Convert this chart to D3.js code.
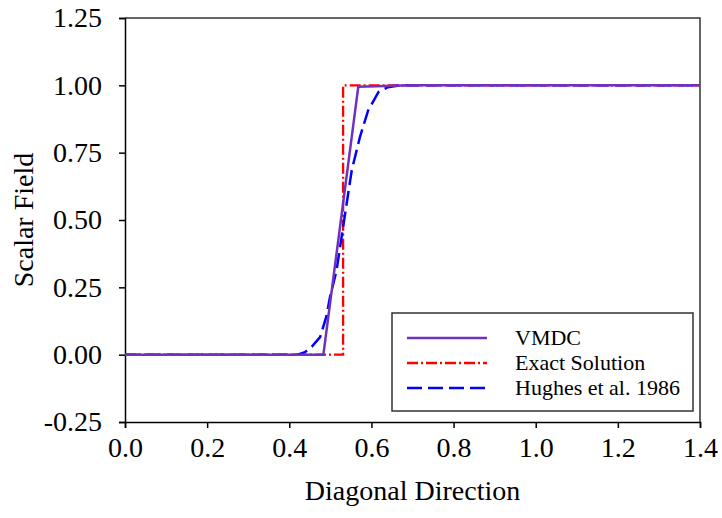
<!DOCTYPE html>
<html>
<head>
<meta charset="utf-8">
<script src="https://cdn.jsdelivr.net/npm/d3@7"></script>
<style>
  body { margin: 0; background: #fff; }
  svg { display: block; }
  .axis path, .axis line { stroke: #000; stroke-width: 1.5; }
</style>
</head>
<body>
<div id="chart"></div>
<script>
// Data
var xTicks = [0.0, 0.2, 0.4, 0.6, 0.8, 1.0, 1.2, 1.4];
var yTicks = [-0.25, 0.00, 0.25, 0.50, 0.75, 1.00, 1.25];

var vmdcX = [0, 0.483, 0.568, 0.70, 1.4];
var vmdcY = [0, 0, 0.995, 1.0, 1.0];

var exactX = [0, 0.531, 0.531, 1.4];
var exactY = [0, 0, 1, 1];

var hughesX = [0, 0.42, 0.438, 0.455, 0.475, 0.49, 0.499, 0.515, 0.536, 0.552, 0.572, 0.592, 0.617, 0.64, 0.67, 1.4];
var hughesY = [0, 0, 0.009, 0.03, 0.065, 0.14, 0.213, 0.312, 0.524, 0.684, 0.808, 0.907, 0.975, 0.993, 1.0, 1.0];

var seriesNames = ["VMDC", "Exact Solution", "Hughes et al. 1986"];

// Parameters
var width = 722, height = 518;
var plotL = 125, plotR = 700, plotT = 18, plotB = 422;
var serif = "'Liberation Serif', 'Times New Roman', serif";

var svg = d3.select("#chart").append("svg")
    .attr("width", width)
    .attr("height", height)
    .attr("font-family", serif);

var xScale = d3.scaleLinear().domain([0, 1.4]).range([plotL, plotR]);
var yScale = d3.scaleLinear().domain([-0.25, 1.25]).range([plotB, plotT]);

// frame (top and right)
svg.append("path")
    .attr("d", "M" + plotL + "," + plotT + "H" + plotR + "V" + plotB)
    .attr("fill", "none").attr("stroke", "#333").attr("stroke-width", 1.5);

function hyphen(fmt) {
    var f = d3.format(fmt);
    return function(d) { return f(d).replace("\u2212", "-"); };
}

var xAxis = d3.axisBottom(xScale).tickValues(xTicks).tickSize(6).tickSizeOuter(6)
    .tickPadding(9).tickFormat(hyphen(".1f"));
var yAxis = d3.axisLeft(yScale).tickValues(yTicks).tickSize(6).tickSizeOuter(6)
    .tickPadding(17).tickFormat(hyphen(".2f"));

svg.append("g").attr("class", "axis")
    .attr("transform", "translate(0," + plotB + ")")
    .call(xAxis)
    .attr("font-family", serif).attr("font-size", 28);
svg.append("g").attr("class", "axis")
    .attr("transform", "translate(" + plotL + ",0)")
    .call(yAxis)
    .attr("font-family", serif).attr("font-size", 28);

// Axis titles
svg.append("text")
    .attr("x", (plotL + plotR) / 2).attr("y", 500)
    .attr("text-anchor", "middle").attr("font-size", 28)
    .text("Diagonal Direction");
svg.append("text")
    .attr("transform", "translate(33,220)rotate(-90)")
    .attr("text-anchor", "middle").attr("font-size", 28)
    .text("Scalar Field");

// Lines
function pts(xs, ys) { return xs.map(function(x, i) { return [x, ys[i]]; }); }
var line = d3.line().x(function(d) { return xScale(d[0]); }).y(function(d) { return yScale(d[1]); });

var styles = [
    { color: "#7030c0", width: 2.5, dash: null },
    { color: "#ff0000", width: 2.3, dash: "11,3,2,3" },
    { color: "#0000ff", width: 2.5, dash: "15,6" }
];
var data = [pts(vmdcX, vmdcY), pts(exactX, exactY), pts(hughesX, hughesY)];

[1, 2, 0].forEach(function(i) {
    svg.append("path")
        .datum(data[i])
        .attr("d", line)
        .attr("fill", "none")
        .attr("stroke", styles[i].color)
        .attr("stroke-width", styles[i].width)
        .attr("stroke-dasharray", styles[i].dash);
});

// Legend
var lg = svg.append("g");
lg.append("rect")
    .attr("x", 392).attr("y", 313).attr("width", 301).attr("height", 98)
    .attr("fill", "#fff").attr("stroke", "#333").attr("stroke-width", 1.5);
seriesNames.forEach(function(name, i) {
    var y = 338 + i * 25;
    lg.append("line")
        .attr("x1", 407).attr("x2", 487).attr("y1", y).attr("y2", y)
        .attr("stroke", styles[i].color)
        .attr("stroke-width", styles[i].width)
        .attr("stroke-dasharray", styles[i].dash);
    lg.append("text")
        .attr("x", 515).attr("y", y + 7)
        .attr("font-size", 22)
        .text(name);
});
</script>
</body>
</html>
